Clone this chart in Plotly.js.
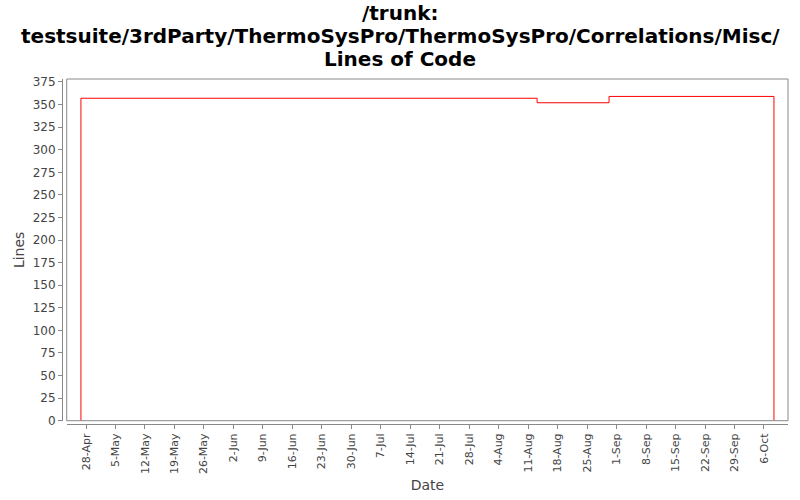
<!DOCTYPE html>
<html>
<head>
<meta charset="utf-8">
<script src="https://cdn.plot.ly/plotly-3.0.1.min.js"></script>
<style>html,body{margin:0;padding:0;background:#fff}#chart{width:800px;height:500px}</style>
</head>
<body>
<div id="chart"></div>
<script>
// Data
const dates = ['2008-04-26 19:00', '2008-04-26 19:00', '2008-08-13 03:00', '2008-08-30 05:00', '2008-10-08 09:00', '2008-10-08 09:00'];
const lines = [0, 357, 352, 359, 359, 0];
const yTicks = [0, 25, 50, 75, 100, 125, 150, 175, 200, 225, 250, 275, 300, 325, 350, 375];
const xRange = ['2008-04-23 10:00', '2008-10-11 17:00'];
const titleLines = ['/trunk:', 'testsuite/3rdParty/ThermoSysPro/ThermoSysPro/Correlations/Misc/', 'Lines of Code'];

const W = 800, H = 500;
const M = {l: 62, r: 12, t: 79, b: 76};
const xDom = [0.0065, 1];
const yDom = [0.0096, 1];
const tickFont = {family: 'DejaVu Sans', size: 11, color: '#444'};

const trace = {
  x: dates, y: lines, type: 'scatter', mode: 'lines',
  line: {shape: 'hv', color: '#ff0000', width: 1},
  hoverinfo: 'skip'
};

// Title lines as annotations, centred on the page, 23px apart
const plotW = W - M.l - M.r, plotH = H - M.t - M.b;
const titleCenters = [13, 36, 59];
const annotations = titleLines.map((t, i) => ({
  text: '<b>' + t + '</b>', showarrow: false,
  xref: 'paper', yref: 'paper',
  x: (W / 2 - M.l) / plotW, xanchor: 'center',
  y: 1 + (M.t - titleCenters[i]) / plotH, yanchor: 'middle',
  font: {family: 'DejaVu Sans', size: 20, color: '#000'}
}));

const layout = {
  width: W, height: H,
  paper_bgcolor: '#fff', plot_bgcolor: '#fff',
  margin: M,
  showlegend: false,
  annotations: annotations,
  xaxis: {
    type: 'date', range: xRange, domain: xDom,
    anchor: 'free', position: 0,
    tick0: '2008-04-28', dtick: 7 * 86400000, tickformat: '%-d-%b',
    tickangle: -90, tickfont: tickFont,
    ticks: 'outside', ticklen: 4, tickcolor: '#888',
    showline: true, linecolor: '#888', linewidth: 1,
    showgrid: false, zeroline: false,
    title: {text: 'Date', font: {family: 'DejaVu Sans', size: 14, color: '#444'}, standoff: 7}
  },
  yaxis: {
    range: [0, 378.3], domain: yDom,
    anchor: 'free', position: 0,
    tickvals: yTicks, tickfont: {family: 'DejaVu Sans', size: 12, color: '#444'},
    ticks: 'outside', ticklen: 4, tickcolor: '#888',
    showline: true, linecolor: '#888', linewidth: 1,
    showgrid: false, zeroline: false,
    title: {text: 'Lines', font: {family: 'DejaVu Sans', size: 14, color: '#444'}, standoff: 3}
  },
  shapes: [{
    type: 'rect', xref: 'paper', yref: 'paper',
    x0: xDom[0], x1: xDom[1], y0: yDom[0], y1: yDom[1],
    line: {color: '#888', width: 1}, fillcolor: 'rgba(0,0,0,0)', layer: 'above'
  }]
};

Plotly.newPlot('chart', [trace], layout, {staticPlot: true, displayModeBar: false});
</script>
</body>
</html>
